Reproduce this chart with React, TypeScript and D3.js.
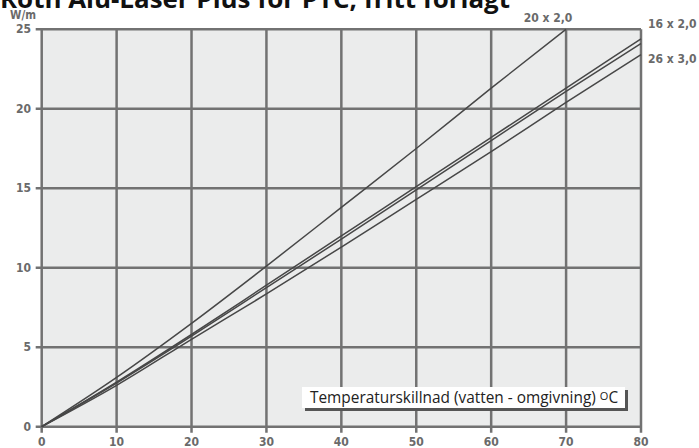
import React from 'react';
import * as d3 from 'd3';

const temps = [0, 10, 20, 30, 40, 50, 60, 70, 80];

const pipe20x20 = [0, 3.1, 6.5, 10.1, 13.8, 17.5, 21.3, 25.0];
const pipe16x20 = [0, 2.8, 5.8, 8.9, 12.0, 15.1, 18.2, 21.3, 24.4];
const pipe18x20 = [0, 2.75, 5.7, 8.75, 11.8, 14.9, 18.0, 21.1, 24.1];
const pipe26x30 = [0, 2.6, 5.5, 8.35, 11.3, 14.3, 17.3, 20.4, 23.4];

const xTicks = [0, 10, 20, 30, 40, 50, 60, 70, 80];
const yTicks = [0, 5, 10, 15, 20, 25];

const title = 'Roth Alu-Laser Plus för PTC, fritt förlagt';
const yUnit = 'W/m';
const xTitle = 'Temperaturskillnad (vatten - omgivning) ';

const W = 699;
const H = 448;

export default function App() {
  const x = d3.scaleLinear().domain([0, 80]).range([41.7, 641]);
  const y = d3.scaleLinear().domain([0, 25]).range([426.7, 29.3]);

  const line = d3.line<number>()
    .x((d, i) => x(temps[i]))
    .y(d => y(d))
    .curve(d3.curveMonotoneX);

  const series = [pipe20x20, pipe16x20, pipe18x20, pipe26x30];
  const gridColor = '#727272';
  const tickFont = { fontFamily: '"DejaVu Sans Condensed", "DejaVu Sans", sans-serif', fontWeight: 700, fontSize: 12, fill: '#6a6a6a' };

  return (
    <svg width={W} height={H} style={{ position: 'absolute', left: 0, top: 0, background: '#fff' }}>
      <text x={0} y={8} textLength={510} lengthAdjust="spacingAndGlyphs"
        style={{ fontFamily: '"Open Sans", sans-serif', fontWeight: 700, fontSize: 25, fill: '#111' }}>{title}</text>
      <text x={10} y={19} style={{ ...tickFont, fontSize: 11.5 }}>{yUnit}</text>

      <rect x={x(0)} y={y(25)} width={x(80) - x(0)} height={y(0) - y(25)} fill="#ebecec" />

      {xTicks.map(t => (
        <line key={'vx' + t} x1={x(t)} x2={x(t)} y1={y(25)} y2={y(0) + 6} stroke={gridColor} strokeWidth={2.5} />
      ))}
      {yTicks.map(t => (
        <line key={'hy' + t} x1={x(0) - 6} x2={x(80)} y1={y(t)} y2={y(t)} stroke={gridColor} strokeWidth={2.5} />
      ))}

      {xTicks.map(t => (
        <text key={'xl' + t} x={x(t)} y={446} textAnchor="middle" style={tickFont}>{t}</text>
      ))}
      {yTicks.map(t => (
        <text key={'yl' + t} x={31} y={y(t) + 4} textAnchor="end" style={tickFont}>{t}</text>
      ))}

      <rect x={305} y={390} width={323} height={21} fill="#555" />
      <rect x={302} y={387} width={323} height={21} fill="#fff" />
      <text x={310} y={403} style={{ fontFamily: '"Open Sans", sans-serif', fontSize: 15.4, fill: '#222' }}>
        {xTitle}
        <tspan fontSize={11} dy={-3}>O</tspan>
        <tspan dy={3}>C</tspan>
      </text>

      {series.map((s, i) => (
        <path key={'s' + i} d={line(s) || ''} fill="none" stroke="#474747" strokeWidth={1.5} />
      ))}

      <text x={548} y={22} textAnchor="middle" style={tickFont}>20 x 2,0</text>
      <text x={648} y={28} style={tickFont}>16 x 2,0</text>
      <text x={648} y={63} style={tickFont}>26 x 3,0</text>
    </svg>
  );
}
